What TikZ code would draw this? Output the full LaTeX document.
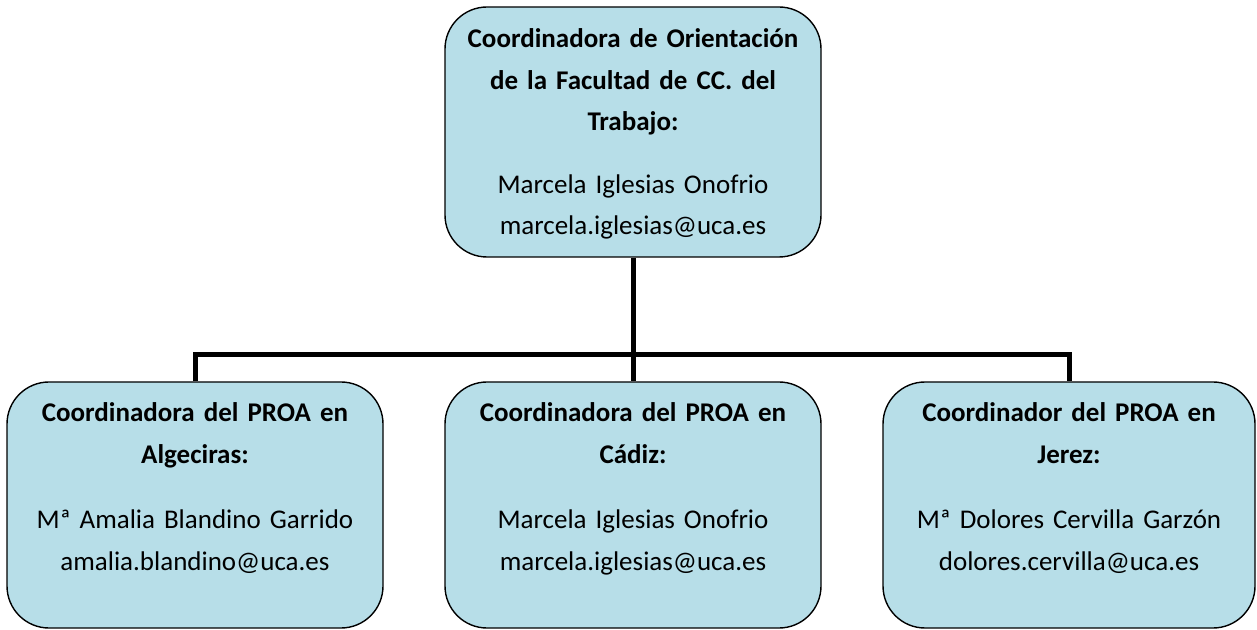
\documentclass[tikz,border=0pt]{standalone}
\usepackage{fontspec}
\setmainfont{Carlito}
\definecolor{boxfill}{HTML}{B7DEE8}
\begin{document}
\begin{tikzpicture}[x=1pt,y=1pt,
  orgbox/.style={draw=black, line width=1.4pt, fill=boxfill, rounded corners=42pt,
    minimum width=376pt, inner sep=0pt},
  txt/.style={text width=372pt, align=center, anchor=base, inner sep=0pt,
    font=\fontsize{27}{41.5}\selectfont},
  conn/.style={line width=5pt}]
\useasboundingbox (0,0) rectangle (1257,629);
% boxes
\node[orgbox, minimum height=250pt] (top) at (633,497) {};
\node[orgbox, minimum height=246pt] (left) at (195,124) {};
\node[orgbox, minimum height=246pt] (mid) at (633,124) {};
\node[orgbox, minimum height=246pt, minimum width=372pt] (right) at (1069,124) {};
% connectors
\coordinate (bar) at (633,274);
\draw[conn] (top.south) -- (mid.north);
\draw[conn] (left.north) |- (bar) -| (right.north);
% texts
\node[txt] (toptxt) at (633,581) {\textbf{Coordinadora de Orientación}\\ \textbf{de la Facultad de CC. del}\\ \textbf{Trabajo:}\\[21pt] Marcela Iglesias Onofrio\\ marcela.iglesias@uca.es};
\node[txt] (lefttxt) at (195,207) {\textbf{Coordinadora del PROA en}\\ \textbf{Algeciras:}\\[24pt] Mª Amalia Blandino Garrido\\ amalia.blandino@uca.es};
\node[txt] (midtxt) at (633,207) {\textbf{Coordinadora del PROA en}\\ \textbf{Cádiz:}\\[24pt] Marcela Iglesias Onofrio\\ marcela.iglesias@uca.es};
\node[txt] (righttxt) at (1069,207) {\textbf{Coordinador del PROA en}\\ \textbf{Jerez:}\\[24pt] Mª Dolores Cervilla Garzón\\ dolores.cervilla@uca.es};
\end{tikzpicture}
\end{document}
